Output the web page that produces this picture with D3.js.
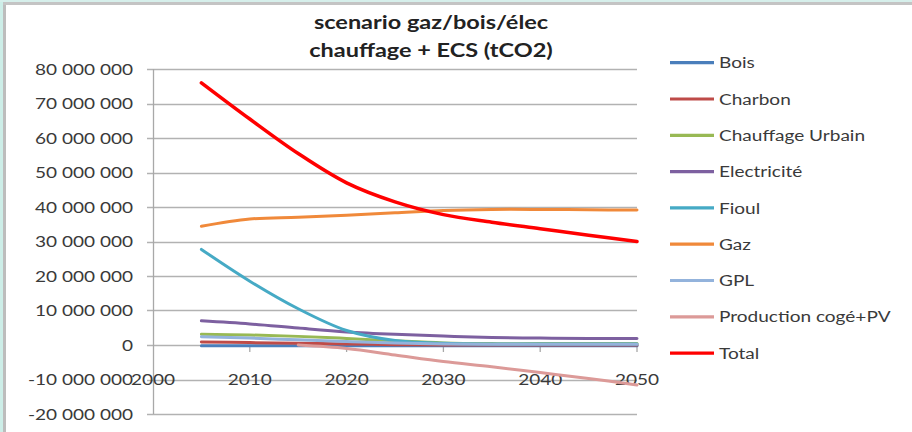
<!DOCTYPE html>
<html>
<head>
<meta charset="utf-8">
<script src="https://cdn.jsdelivr.net/npm/d3@7"></script>
<style>
  body { margin: 0; background: #fff; }
  svg { display: block; font-family: Lato, "Open Sans", sans-serif; }
</style>
</head>
<body>
<div id="chart"></div>
<script>
// scenario gaz/bois/élec - emissions chauffage + ECS (tCO2)
const years = [2005, 2010, 2015, 2020, 2025, 2030, 2035, 2040, 2045, 2050];

const bois = [-0.2, -0.2, -0.2, -0.2, -0.2, -0.2, -0.2, -0.2, -0.2, -0.2].map(v => v * 1e6);
const charbon = [0.9, 0.7, 0.5, 0.3, 0.1, 0, 0, 0, 0, 0].map(v => v * 1e6);
const chauffageUrbain = [3.1, 2.9, 2.5, 1.9, 1.2, 0.6, 0.4, 0.4, 0.4, 0.4].map(v => v * 1e6);
const electricite = [7.0, 6.1, 4.9, 3.8, 3.1, 2.6, 2.2, 2.0, 1.9, 1.9].map(v => v * 1e6);
const fioul = [27.7, 18.5, 10.5, 4.2, 1.3, 0.5, 0.3, 0.3, 0.3, 0.3].map(v => v * 1e6);
const gaz = [34.4, 36.5, 37.0, 37.6, 38.3, 39.0, 39.3, 39.3, 39.2, 39.1].map(v => v * 1e6);
const gpl = [2.4, 2.0, 1.5, 1.0, 0.6, 0.3, 0.2, 0.2, 0.2, 0.2].map(v => v * 1e6);
const productionCogePV = [null, null, 0, -1.0, -2.9, -4.8, -6.3, -8.0, -9.7, -11.6].map(v => v == null ? null : v * 1e6);
const total = [76.0, 65.5, 55.5, 47.0, 41.5, 37.8, 35.6, 33.7, 31.8, 30.0].map(v => v * 1e6);

const seriesNames = ['Bois', 'Charbon', 'Chauffage Urbain', 'Electricité', 'Fioul', 'Gaz', 'GPL', 'Production cogé+PV', 'Total'];
const seriesValues = [bois, charbon, chauffageUrbain, electricite, fioul, gaz, gpl, productionCogePV, total];
const seriesColors = ['#4a7ebb', '#be4b48', '#98b954', '#7d60a0', '#46aac5', '#f0893a', '#93b3dc', '#dc9a98', '#ff0000'];

const yTicks = [-20e6, -10e6, 0, 10e6, 20e6, 30e6, 40e6, 50e6, 60e6, 70e6, 80e6];
const xTicks = [2000, 2010, 2020, 2030, 2040, 2050];
const titleLines = ['scenario gaz/bois/élec', 'chauffage + ECS (tCO2)'];

const width = 912, height = 432;
const stretch = 1.27; // the picture's text is drawn wide

const svg = d3.select('#chart').append('svg')
  .attr('width', width)
  .attr('height', height);

// frame
svg.append('rect').attr('x', 0).attr('y', 0).attr('width', width).attr('height', height).attr('fill', '#fff');
svg.append('rect').attr('x', 0).attr('y', 0).attr('width', 3).attr('height', height).attr('fill', '#cdeee8');
svg.append('rect').attr('x', 0).attr('y', 0).attr('width', width).attr('height', 2).attr('fill', '#d6efeb');
svg.append('rect').attr('x', 3).attr('y', 2).attr('width', 3).attr('height', height).attr('fill', '#bdbdbd');
svg.append('rect').attr('x', 3).attr('y', 2).attr('width', width).attr('height', 3).attr('fill', '#c4c4c4');

const x = d3.scaleLinear().domain([2000, 2050]).range([153, 637]);
const y = d3.scaleLinear().domain([-20e6, 80e6]).range([414, 69]);

// horizontal text stretch around the anchor point
function wideText(g, tx, ty, str, anchor) {
  return g.append('text')
    .attr('transform', 'translate(' + tx + ',' + ty + ') scale(' + stretch + ',1)')
    .attr('text-anchor', anchor)
    .attr('dominant-baseline', 'central')
    .text(str);
}

// gridlines + y ticks
const grid = svg.append('g');
grid.selectAll('line')
  .data(yTicks)
  .enter()
  .append('line')
  .attr('x1', 147)
  .attr('x2', x(2050))
  .attr('y1', d => Math.round(y(d)) + 0.5)
  .attr('y2', d => Math.round(y(d)) + 0.5)
  .attr('stroke', '#b2b2b2')
  .attr('stroke-width', 1.3);

// vertical axis
svg.append('line')
  .attr('x1', 153.5).attr('x2', 153.5)
  .attr('y1', y(80e6)).attr('y2', y(-20e6))
  .attr('stroke', '#a8a8a8')
  .attr('stroke-width', 1.3);

// x tick marks on the zero line
svg.append('g').selectAll('line')
  .data(xTicks.slice(1))
  .enter()
  .append('line')
  .attr('x1', d => x(d)).attr('x2', d => x(d))
  .attr('y1', y(0)).attr('y2', y(0) + 7)
  .attr('stroke', '#a8a8a8')
  .attr('stroke-width', 1.3);

// y labels (plain hyphen, space as thousands separator)
const yLab = svg.append('g').attr('fill', '#3a3a3a').style('font-size', '15px');
const fmt = d => d3.format(',')(Math.abs(d)).replace(/,/g, ' ');
yTicks.forEach(d => {
  wideText(yLab, 133, y(d), (d < 0 ? '-' : '') + fmt(d), 'end');
});

// x labels
const xLab = svg.append('g').attr('fill', '#3a3a3a').style('font-size', '15px');
xTicks.forEach(d => {
  wideText(xLab, x(d), 379, String(d), 'middle');
});

// series
const line = d3.line()
  .defined(d => d[1] != null)
  .x(d => x(d[0]))
  .y(d => y(d[1]))
  .curve(d3.curveCatmullRom.alpha(0.5));

const lines = svg.append('g').attr('fill', 'none').attr('stroke-linecap', 'round');
seriesValues.forEach((vals, i) => {
  lines.append('path')
    .attr('d', line(years.map((yr, j) => [yr, vals[j]])))
    .attr('stroke', seriesColors[i])
    .attr('stroke-width', i === 8 ? 3.5 : 3);
});

// title
const title = svg.append('g').attr('fill', '#222').style('font-size', '18.5px').style('font-weight', 'bold');
titleLines.forEach((t, i) => {
  wideText(title, 431, 22 + i * 28, t, 'middle');
});

// legend
const legend = svg.append('g').style('font-size', '15px').attr('fill', '#3a3a3a');
seriesNames.forEach((name, i) => {
  const ly = 62.7 + i * 36.3;
  legend.append('line')
    .attr('x1', 670).attr('x2', 714)
    .attr('y1', ly).attr('y2', ly)
    .attr('stroke', seriesColors[i])
    .attr('stroke-width', 3.2);
  wideText(legend, 719, ly, name, 'start');
});
</script>
</body>
</html>
